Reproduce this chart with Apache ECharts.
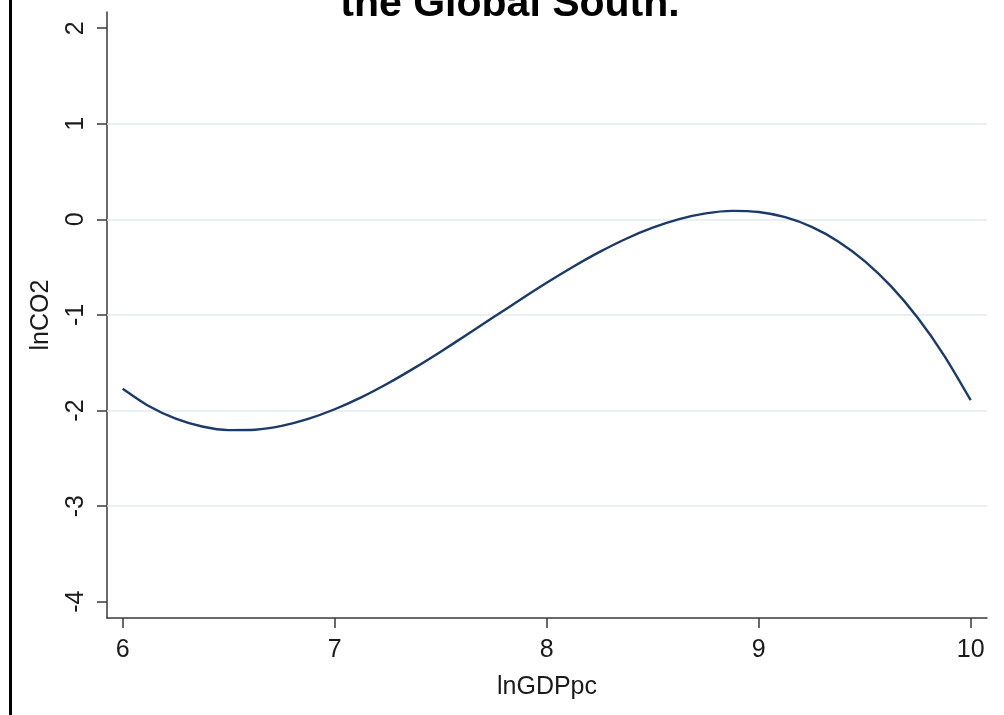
<!DOCTYPE html>
<html>
<head>
<meta charset="utf-8">
<script src="https://cdn.jsdelivr.net/npm/echarts@6/dist/echarts.min.js"></script>
<style>
html,body{margin:0;padding:0;background:#fff;}
#chart{width:1004px;height:715px;}
</style>
</head>
<body>
<div id="chart"></div>
<script>
const titleText = 'the Global South.';
const xName = 'lnGDPpc';
const yName = 'lnCO2';
const xTicks = [6, 7, 8, 9, 10];
const yTicks = [-4, -3, -2, -1, 0, 1, 2];
const gridValues = [-3, -2, -1, 0, 1];
const lnGDPpc = [6, 6.125, 6.25, 6.375, 6.5, 6.625, 6.75, 6.875, 7, 7.125, 7.25, 7.375, 7.5, 7.625, 7.75, 7.875, 8,
  8.125, 8.25, 8.375, 8.5, 8.625, 8.75, 8.875, 9, 9.125, 9.25, 9.375, 9.5, 9.625, 9.75, 9.875, 10];
const lnCO2 = [-1.771, -1.955, -2.085, -2.167, -2.204, -2.200, -2.160, -2.087, -1.986, -1.862, -1.717, -1.556, -1.384, -1.204, -1.022, -0.840, -0.663,
  -0.495, -0.340, -0.202, -0.087, 0.003, 0.063, 0.089, 0.077, 0.023, -0.078, -0.230, -0.436, -0.701, -1.029, -1.424, -1.891];

const font = '"Liberation Sans", Arial, sans-serif';
const chart = echarts.init(document.getElementById('chart'), null, {renderer: 'canvas'});
chart.setOption({
  backgroundColor: '#ffffff',
  animation: false,
  grid: {left: 107, right: 17, top: 12, bottom: 97, containLabel: false},
  graphic: [
    {type: 'rect', shape: {x: 9, y: 0, width: 3, height: 715}, style: {fill: '#000'}},
    {type: 'text', x: 510, y: -16, style: {text: titleText, fontFamily: font, fontWeight: 'bold', fontSize: 41, fill: '#000', align: 'center', verticalAlign: 'top'}}
  ],
  xAxis: {
    type: 'value', min: 5.926, max: 10.077,
    name: xName, nameLocation: 'middle', nameGap: 57,
    nameTextStyle: {fontFamily: font, fontSize: 25, color: '#1a1a1a'},
    axisLine: {show: true, onZero: false, lineStyle: {color: '#3a3a3a', width: 1.5}},
    axisTick: {show: true, length: 10, customValues: xTicks, lineStyle: {color: '#3a3a3a', width: 1.5}},
    axisLabel: {customValues: xTicks, margin: 20, fontFamily: font, fontSize: 25, color: '#1a1a1a'},
    splitLine: {show: false}
  },
  yAxis: {
    type: 'value', min: -4.17, max: 2.17,
    name: yName, nameLocation: 'middle', nameGap: 53, nameRotate: 90,
    nameTextStyle: {fontFamily: font, fontSize: 25, color: '#1a1a1a'},
    axisLine: {show: true, onZero: false, lineStyle: {color: '#3a3a3a', width: 1.5}},
    axisTick: {show: true, length: 10, customValues: yTicks, lineStyle: {color: '#3a3a3a', width: 1.5}},
    axisLabel: {customValues: yTicks, rotate: 90, margin: 18, fontFamily: font, fontSize: 25, color: '#1a1a1a'},
    splitLine: {show: false}
  },
  series: [
    {
      type: 'line',
      data: [],
      z: 1,
      markLine: {
        silent: true, symbol: 'none', label: {show: false}, z: 1,
        lineStyle: {color: '#e3eaf0', width: 1.5, type: 'solid'},
        data: gridValues.map(v => ({yAxis: v}))
      }
    },
    {
      type: 'line',
      data: lnGDPpc.map((x, i) => [x, lnCO2[i]]),
      smooth: 0.25,
      showSymbol: false,
      lineStyle: {color: '#1a3a6b', width: 2.4},
      z: 5
    }
  ]
});
</script>
</body>
</html>
